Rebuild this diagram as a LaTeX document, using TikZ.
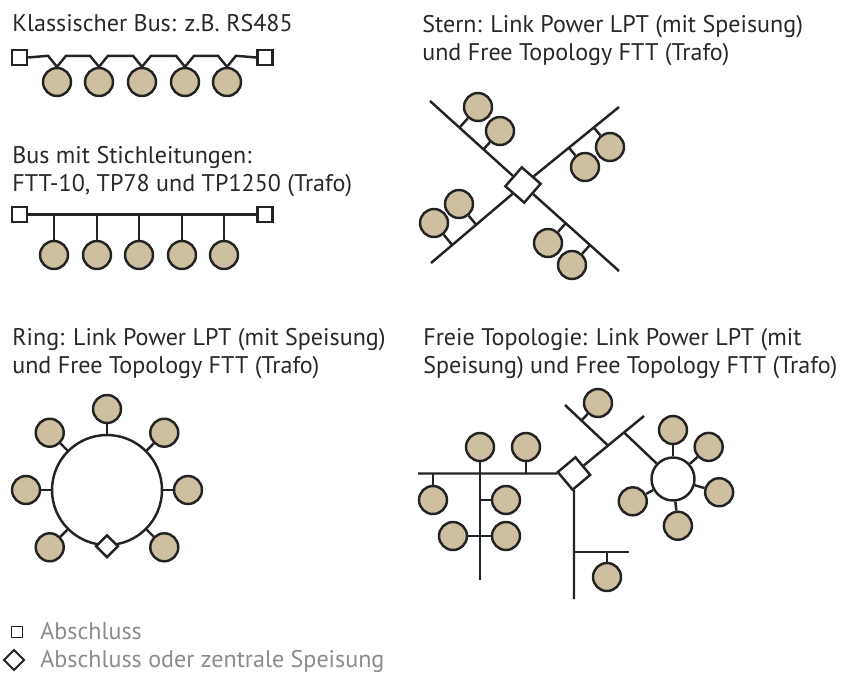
\documentclass[tikz,border=0pt]{standalone}
\usepackage{fontspec}
\setmainfont{PT Sans}
\usepackage{tikz}
\usetikzlibrary{shapes.geometric, positioning, calc}
\definecolor{stationtan}{RGB}{205,191,160}
\definecolor{linegray}{RGB}{35,35,35}
\definecolor{textgray}{RGB}{40,40,40}
\definecolor{legendgray}{RGB}{140,140,140}

\begin{document}
\begin{tikzpicture}[
    x=0.02cm, y=-0.02cm,
    wire/.style={draw=linegray, line width=1.4pt},
    station/.style={circle, draw=linegray, fill=stationtan, line width=1.4pt, minimum size=0.56cm, inner sep=0pt},
    term/.style={rectangle, draw=linegray, fill=white, line width=1.4pt, minimum size=0.3cm, inner sep=0pt},
    feed/.style={rectangle, draw=linegray, fill=white, line width=1.4pt, minimum size=0.5cm, inner sep=0pt},
    ringbus/.style={circle, draw=linegray, fill=white, line width=1.4pt, inner sep=0pt},
    title/.style={anchor=base west, inner sep=0pt, text=textgray, font=\fontsize{13.7}{16}\selectfont},
    legend/.style={title, text=legendgray}
]
    \useasboundingbox (0,0) rectangle (848,680);

    % Klassischer Bus
    \node [title] (bus1) at (12,31) {Klassischer Bus: z.B. RS485};
    \node [term] (kl) at (19.5,57.5) {};
    \node [term] (kr) at (265,57.5) {};
    \node [station] (k1) at (57,82) {};
    \node [station] (k2) at (99,82) {};
    \node [station] (k3) at (142,82) {};
    \node [station] (k4) at (185,82) {};
    \node [station] (k5) at (227,82) {};
    \draw [wire] (kl.east) -- ($(k1.north)+(-9,-11)$) -- (k1.north) -- ($(k1.north)+(9,-11)$)
        -- ($(k2.north)+(-9,-11)$) -- (k2.north) -- ($(k2.north)+(9,-11)$)
        -- ($(k3.north)+(-9,-11)$) -- (k3.north) -- ($(k3.north)+(9,-11)$)
        -- ($(k4.north)+(-9,-11)$) -- (k4.north) -- ($(k4.north)+(9,-11)$)
        -- ($(k5.north)+(-9,-11)$) -- (k5.north) -- ($(k5.north)+(9,-11)$) -- (kr.west);

    % Bus mit Stichleitungen
    \node [title] (bus2a) at (12,163) {Bus mit Stichleitungen:};
    \node [title] (bus2b) at (12,191) {FTT-10, TP78 und TP1250 (Trafo)};
    \node [term] (sl) at (19.5,214.5) {};
    \node [term] (sr) at (265,214.5) {};
    \node [station] (s1) at (54,255) {};
    \node [station] (s2) at (97,255) {};
    \node [station] (s3) at (139,255) {};
    \node [station] (s4) at (182,255) {};
    \node [station] (s5) at (224,255) {};
    \draw [wire] (sl) -- (sr);
    \draw [wire] (s1) -- (s1 |- sl);
    \draw [wire] (s2) -- (s2 |- sl);
    \draw [wire] (s3) -- (s3 |- sl);
    \draw [wire] (s4) -- (s4 |- sl);
    \draw [wire] (s5) -- (s5 |- sl);

    % Stern
    \node [title] (star1) at (422,32) {Stern: Link Power LPT (mit Speisung)};
    \node [title] (star2) at (422,60) {und Free Topology FTT (Trafo)};
    \coordinate (nw) at (430,101);
    \coordinate (se) at (619,271);
    \coordinate (sw) at (431,263);
    \coordinate (ne) at (619,107);
    \node [feed, rotate=-41] (star) at (523,185) {};
    \draw [wire] (nw) -- (star) -- (se);
    \draw [wire] (sw) -- (star) -- (ne);
    \node [station] (t1) at (478,107) {};
    \node [station] (t2) at (500,131) {};
    \node [station] (t3) at (548,243) {};
    \node [station] (t4) at (572,265) {};
    \node [station] (t5) at (459,204) {};
    \node [station] (t6) at (434,223) {};
    \node [station] (t7) at (610,147) {};
    \node [station] (t8) at (585,167) {};
    \draw [wire] ($(nw)!(t1)!(se)$) -- (t1);
    \draw [wire] ($(nw)!(t2)!(se)$) -- (t2);
    \draw [wire] ($(nw)!(t3)!(se)$) -- (t3);
    \draw [wire] ($(nw)!(t4)!(se)$) -- (t4);
    \draw [wire] ($(sw)!(t5)!(ne)$) -- (t5);
    \draw [wire] ($(sw)!(t6)!(ne)$) -- (t6);
    \draw [wire] ($(sw)!(t7)!(ne)$) -- (t7);
    \draw [wire] ($(sw)!(t8)!(ne)$) -- (t8);

    % Ring
    \node [title] (ring1) at (12,345) {Ring: Link Power LPT (mit Speisung)};
    \node [title] (ring2) at (12,373) {und Free Topology FTT (Trafo)};
    \node [ringbus, minimum size=2.2cm] (ring) at (107,490) {};
    \node [feed, minimum size=0.31cm, rotate=45] (ringfeed) at (ring.south) {};
    \node [station] (r1) at ($(ring)+(0:81)$) {};
    \node [station] (r2) at ($(ring)+(-45:81)$) {};
    \node [station] (r3) at ($(ring)+(-90:81)$) {};
    \node [station] (r4) at ($(ring)+(-135:81)$) {};
    \node [station] (r5) at ($(ring)+(180:81)$) {};
    \node [station] (r6) at ($(ring)+(135:81)$) {};
    \node [station] (r7) at ($(ring)+(45:81)$) {};
    \draw [wire] (ring) -- (r1);
    \draw [wire] (ring) -- (r2);
    \draw [wire] (ring) -- (r3);
    \draw [wire] (ring) -- (r4);
    \draw [wire] (ring) -- (r5);
    \draw [wire] (ring) -- (r6);
    \draw [wire] (ring) -- (r7);

    % Freie Topologie
    \node [title] (free1) at (423,345) {Freie Topologie: Link Power LPT (mit};
    \node [title] (free2) at (423,373) {Speisung) und Free Topology FTT (Trafo)};
    \coordinate (fw) at (418,473.5);
    \coordinate (fs) at (574,599);
    \coordinate (fne) at (644,416);
    \coordinate (fnw) at (565,405);
    \coordinate (fv) at (480,580);
    \coordinate (fb1) at (574,552);
    \coordinate (fb2) at (629,552);
    \node [feed, minimum size=0.46cm, rotate=40] (hub) at (574,473.5) {};
    \coordinate (fx) at ($(hub)!0.486!(fne)$);
    \coordinate (fy) at ($(hub)!0.714!(fne)$);
    \draw [wire] (fw) -- (hub) -- (fs);
    \draw [wire] (hub) -- (fne);
    \draw [wire] (fnw) -- (fx);
    \draw [wire] (fb1) -- (fb2);
    \node [station] (f1) at (480,447) {};
    \node [station] (f2) at (526,447) {};
    \node [station] (f3) at (433,500) {};
    \node [station] (f4) at (506,500) {};
    \node [station] (f5) at (453,536) {};
    \node [station] (f6) at (506,536) {};
    \node [station] (f7) at (607,577) {};
    \node [station] (f8) at (598,403) {};
    \draw [wire] (f1) -- (fv);
    \draw [wire] (f2) -- (f2 |- fw);
    \draw [wire] (f3) -- (f3 |- fw);
    \draw [wire] (f4) -- (f4 -| fv);
    \draw [wire] (f5) -- (f6);
    \draw [wire] (f7) -- (f7 |- fb2);
    \draw [wire] ($(fnw)!(f8)!(fx)$) -- (f8);
    \node [ringbus, minimum size=0.86cm] (fring) at (673,479) {};
    \draw [wire] (fy) -- (fring);
    \node [station] (g1) at ($(fring)+(-90:49)$) {};
    \node [station] (g2) at ($(fring)+(-42:48)$) {};
    \node [station] (g3) at ($(fring)+(16:48)$) {};
    \node [station] (g4) at ($(fring)+(84:47)$) {};
    \node [station] (g5) at ($(fring)+(151:46)$) {};
    \draw [wire] (fring) -- (g1);
    \draw [wire] (fring) -- (g2);
    \draw [wire] (fring) -- (g3);
    \draw [wire] (fring) -- (g4);
    \draw [wire] (fring) -- (g5);

    % Legende
    \node [term, minimum size=0.22cm, line width=1pt] (legterm) at (17,632) {};
    \node [feed, minimum size=0.28cm, line width=1.1pt, rotate=45] (legfeed) at (14,660) {};
    \node [legend] (leg1) at (40,639) {Abschluss};
    \node [legend] (leg2) at (40,667) {Abschluss oder zentrale Speisung};
\end{tikzpicture}
\end{document}
